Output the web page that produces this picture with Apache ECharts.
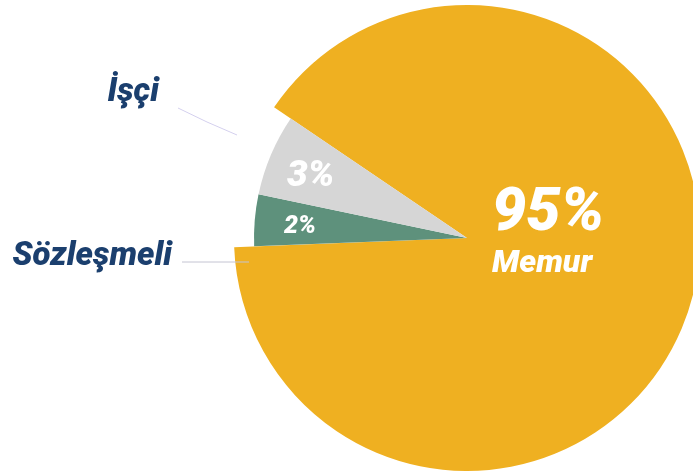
<!DOCTYPE html>
<html>
<head>
<meta charset="utf-8">
<script src="https://cdn.jsdelivr.net/npm/echarts@6/dist/echarts.min.js"></script>
<style>
  html, body { margin: 0; padding: 0; background: #fff; }
  #chart { width: 693px; height: 475px; }
</style>
</head>
<body>
<div id="chart"></div>
<script>
// slices as drawn (angular share) and the printed percentages
const categories = ['Memur', 'İşçi', 'Sözleşmeli']
const sliceSizes = [89.9, 6.2, 3.9]
const percentLabels = ['95%', '3%', '2%']

const colors = { 'Memur': '#EFB021', 'İşçi': '#D6D6D6', 'Sözleşmeli': '#5E917C' }
const FONT = 'Roboto, sans-serif'
const NAVY = '#1B3F6E'
const clear = 'rgba(0,0,0,0)'

const chart = echarts.init(document.getElementById('chart'))

const gapItem = (value) => ({
  value,
  name: '',
  itemStyle: { color: clear },
  label: { show: false },
  labelLine: { show: false }
})

// small slices (shorter radius), drawn clockwise from just below 9 o'clock
const smallNames = ['Sözleşmeli', 'İşçi']
const smallData = smallNames.map(n => {
  const i = categories.indexOf(n)
  return { name: n, value: sliceSizes[i], itemStyle: { color: colors[n] } }
})
smallData.push(gapItem(sliceSizes[0]))

// positions of the inner percent labels
const innerPos = {
  'Sözleşmeli': { x: 284, y: 227, size: 25 },
  'İşçi': { x: 287, y: 177, size: 37 }
}
// positions of outside name labels + leader lines
const outerPos = {
  'İşçi': { x: 159, y: 93, size: 33, line: [[237, 135], [207, 122], [178, 108]], lineColor: '#D4D0EE' },
  'Sözleşmeli': { x: 172, y: 257, size: 33, line: [[249, 262], [215, 262], [182, 262]], lineColor: '#C4C4D2' }
}

const option = {
  animation: false,
  series: [
    {
      // Memur, the big slice
      type: 'pie',
      center: [467, 238],
      radius: 233,
      startAngle: 145.9,
      silent: true,
      avoidLabelOverlap: false,
      itemStyle: { borderWidth: 0 },
      emphasis: { disabled: true },
      data: [
        {
          name: categories[0],
          value: sliceSizes[0],
          itemStyle: { color: colors['Memur'] },
          label: {
            show: true,
            position: 'inside',
            formatter: '{a|' + percentLabels[0] + '}\n{b|' + categories[0] + '}',
            rich: {
              a: { fontFamily: FONT, fontWeight: 900, fontStyle: 'italic', fontSize: 61, color: '#fff', lineHeight: 60 },
              b: { fontFamily: FONT, fontWeight: 900, fontStyle: 'italic', fontSize: 32, color: '#fff', lineHeight: 38 }
            }
          }
        },
        gapItem(sliceSizes[1] + sliceSizes[2])
      ],
      labelLayout: () => ({ x: 492, y: 185, align: 'left', verticalAlign: 'top' })
    },
    {
      // İşçi and Sözleşmeli with inner percent labels
      type: 'pie',
      center: [467, 238],
      radius: 213,
      startAngle: 182.2,
      silent: true,
      avoidLabelOverlap: false,
      itemStyle: { borderWidth: 0 },
      emphasis: { disabled: true },
      label: {
        show: true,
        position: 'inside',
        color: '#fff',
        fontFamily: FONT,
        fontWeight: 900,
        fontStyle: 'italic',
        formatter: p => percentLabels[categories.indexOf(p.name)]
      },
      labelLine: { show: false },
      data: smallData.map(d => d.name ? Object.assign({}, d, {
        label: { fontSize: innerPos[d.name].size }
      }) : d),
      labelLayout: p => {
        const pos = innerPos[smallNames[p.dataIndex]]
        if (!pos) return {}
        return { x: pos.x, y: pos.y, align: 'left', verticalAlign: 'middle' }
      }
    },
    {
      // outside names with leader lines
      type: 'pie',
      center: [467, 238],
      radius: 213,
      startAngle: 182.2,
      silent: true,
      z: 5,
      avoidLabelOverlap: false,
      itemStyle: { borderWidth: 0, color: clear },
      emphasis: { disabled: true },
      label: {
        show: true,
        position: 'outside',
        color: NAVY,
        fontFamily: FONT,
        fontWeight: 900,
        fontStyle: 'italic',
        formatter: '{b}'
      },
      labelLine: { show: true, lineStyle: { width: 1 } },
      data: smallData.map(d => d.name ? {
        name: d.name,
        value: d.value,
        itemStyle: { color: clear },
        label: { fontSize: outerPos[d.name].size },
        labelLine: { lineStyle: { color: outerPos[d.name].lineColor } }
      } : d),
      labelLayout: p => {
        const pos = outerPos[smallNames[p.dataIndex]]
        if (!pos) return {}
        return { x: pos.x, y: pos.y, align: 'right', verticalAlign: 'middle', labelLinePoints: pos.line }
      }
    }
  ]
}

chart.setOption(option)
</script>
</body>
</html>
